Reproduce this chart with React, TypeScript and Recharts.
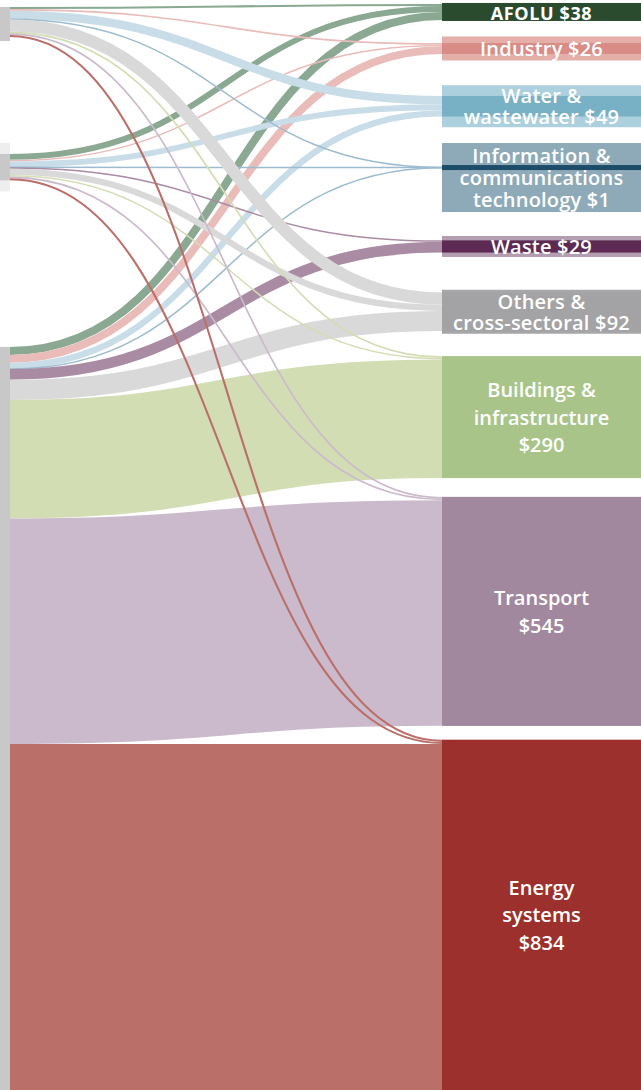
import React from "react";
import { Sankey } from "recharts";

// funding sources (left column, unlabeled in the original), top to bottom
const SOURCES = ["Source A", "Source B", "Source C"];

// sectors (right column), top to bottom, with their totals ($)
const SECTORS = [
  "AFOLU",
  "Industry",
  "Water & wastewater",
  "Information & communications technology",
  "Waste",
  "Others & cross-sectoral",
  "Buildings & infrastructure",
  "Transport",
  "Energy systems",
];
const SECTOR_TOTALS = [38, 26, 49, 1, 29, 92, 290, 545, 834];

// flow from each source into each sector (same order as SECTORS)
const FROM_A = [5, 4, 20, 0.4, 0, 29, 4, 4, 5];
const FROM_B = [14, 3.5, 14, 0.3, 3.5, 15, 3.5, 4, 5];
const FROM_C = [19, 18.5, 15, 0.3, 25.5, 48, 282.5, 537, 824];

// label text shown in the sector boxes (value appended to last line)
const LABEL_LINES = [
  ["AFOLU"],
  ["Industry"],
  ["Water &", "wastewater"],
  ["Information &", "communications", "technology"],
  ["Waste"],
  ["Others &", "cross-sectoral"],
  ["Buildings &", "infrastructure", ""],
  ["Transport", ""],
  ["Energy", "systems", ""],
];

// ---- layout / style (not data) ----
// blank space above each node, in value units, so the columns keep the original gaps
const LEFT_GAPS = [16.7, 278.6, 396.7];
const RIGHT_GAPS = [9.5, 55, 100, 121, 173, 95, 60, 45, 33.5];

const NODE_COLORS = ["#2b4b2e", "#d98c86", "#78b0c6", "#1d4c69", "#5c2a52", "#a3a3a5", "#a9c488", "#a1889e", "#9c302c"];
const BOX_COLORS = ["#2b4b2e", "#e4aea9", "#add0de", "#8eaab8", "#b39db0", "#a7a7a9", "#a9c488", "#a1889e", "#9c302c"];
const LINK_COLORS = ["#8aa892", "#e9bcba", "#c8dde8", "#9dbccf", "#a98ca3", "#d9d9d9", "#d3ddb4", "#cbbacb", "#ba6f69"];
const BOX_H = [18, 24, 42, 69, 21, 44, 0, 0, 0];
const BOX_SHIFT = [0, 0, 0, 10, 0, 0, 0, 0, 0];

const W = 641;
const H = 1090;
const LINK_END_X = 452;

// build the node list: gap, node, gap, node ...
const nodes: { name: string }[] = [];
const leftGapIdx: number[] = [];
const sourceIdx: number[] = [];
SOURCES.forEach((s, i) => {
  leftGapIdx.push(nodes.length);
  nodes.push({ name: "_L" + i });
  sourceIdx.push(nodes.length);
  nodes.push({ name: s });
});
const rightGapIdx: number[] = [];
const sectorIdx: number[] = [];
SECTORS.forEach((s, j) => {
  rightGapIdx.push(nodes.length);
  nodes.push({ name: "_R" + j });
  sectorIdx.push(nodes.length);
  nodes.push({ name: s });
});

const links: { source: number; target: number; value: number }[] = [];
// invisible spacer links, left gaps -> right gaps
let r = 0;
let rLeft = RIGHT_GAPS[0];
LEFT_GAPS.forEach((g, i) => {
  let left = g;
  while (left > 1e-6 && r < RIGHT_GAPS.length) {
    const v = Math.min(left, rLeft);
    links.push({ source: leftGapIdx[i], target: rightGapIdx[r], value: v });
    left -= v;
    rLeft -= v;
    if (rLeft <= 1e-6) {
      r++;
      rLeft = RIGHT_GAPS[r];
    }
  }
});
// real flows (big source first so thin lines are drawn on top)
[FROM_C, FROM_B, FROM_A].forEach((row, k) => {
  const src = sourceIdx[2 - k];
  row.forEach((v, j) => {
    if (v > 0) links.push({ source: src, target: sectorIdx[j], value: v });
  });
});

const data = { nodes, links };

const renderLink = (props: any) => {
  const { sourceX, targetX, sourceY, targetY, sourceControlX, targetControlX, linkWidth, payload } = props;
  if (payload.source.name.startsWith("_")) return <g />;
  const j = SECTORS.indexOf(payload.target.name);
  return (
    <path
      d={`M${sourceX},${sourceY}C${sourceControlX},${sourceY} ${targetControlX},${targetY} ${targetX},${targetY}`}
      fill="none"
      stroke={LINK_COLORS[j]}
      strokeWidth={Math.max(linkWidth, 1.5)}
    />
  );
};

const renderNode = (props: any) => {
  const { x, y, height, payload } = props;
  if (payload.name.startsWith("_")) return <g />;
  const si = SOURCES.indexOf(payload.name);
  if (si >= 0) {
    return (
      <g>
        {si === 1 && <rect x={0} y={y - 11} width={10} height={height + 22} fill="#eeeeee" />}
        <rect x={0} y={y} width={10} height={si === 0 ? height + 4 : height} fill="#c8c8c8" />
      </g>
    );
  }
  const j = SECTORS.indexOf(payload.name);
  const bx = x;
  const bw = W - x;
  const cy = y + height / 2 + BOX_SHIFT[j];
  const boxH = Math.max(BOX_H[j], height);
  const lines = LABEL_LINES[j].slice();
  const last = lines.length - 1;
  lines[last] = (lines[last] ? lines[last] + " " : "") + "$" + SECTOR_TOTALS[j];
  const big = height > 100;
  const lh = big ? 27.5 : j === 3 ? 22 : 21;
  const fs = j === 0 ? 18 : 20;
  const stripeH = Math.max(height, 5);
  return (
    <g>
      <rect x={bx} y={cy - boxH / 2} width={bw} height={boxH} fill={BOX_COLORS[j]} />
      <rect x={bx} y={y + height / 2 - stripeH / 2} width={bw} height={stripeH} fill={NODE_COLORS[j]} />
      {lines.map((t, k) => (
        <text
          key={k}
          x={bx + bw / 2}
          y={cy + (j === 0 ? 1 : 0) + (k - (lines.length - 1) / 2) * lh}
          textAnchor="middle"
          dominantBaseline="central"
          fill="#ffffff"
          fontFamily="'Open Sans', sans-serif"
          fontWeight={j === 0 ? 700 : 600}
          fontSize={fs}
          letterSpacing={big ? 0 : j === 0 ? 0.6 : 0.2}
        >
          {t}
        </text>
      ))}
    </g>
  );
};

export default function App() {
  return (
    <div style={{ position: "absolute", left: 0, top: 0, width: W, height: H, background: "#fff" }}>
      <Sankey
        width={W}
        height={H}
        data={data}
        nodeWidth={10}
        nodePadding={0}
        iterations={0}
        linkCurvature={0.5}
        verticalAlign="top"
        margin={{ top: 0, left: 0, right: W - LINK_END_X, bottom: 0 }}
        node={renderNode}
        link={renderLink}
      />
    </div>
  );
}
